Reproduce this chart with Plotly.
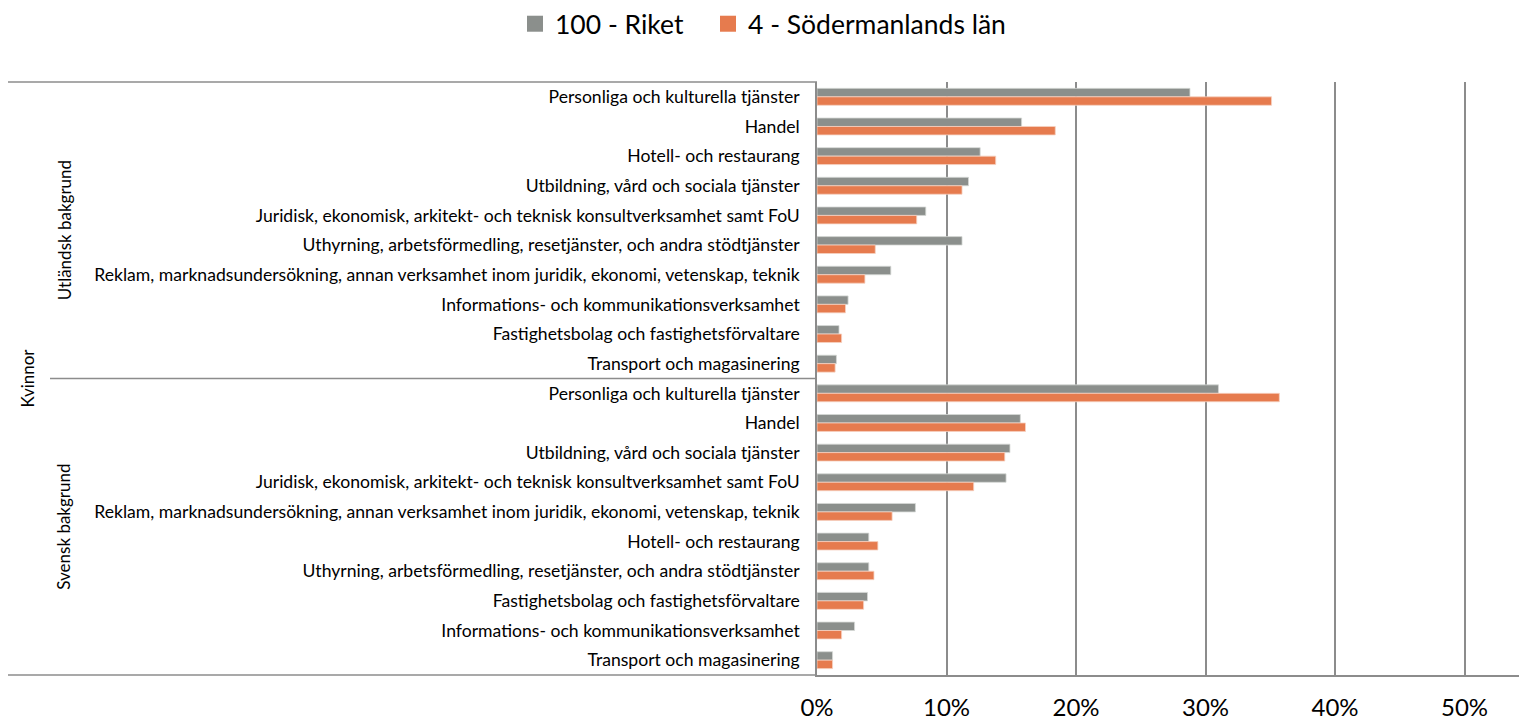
import plotly.graph_objects as go

# ---- data ----
series_names = ["100 - Riket", "4 - Södermanlands län"]
top_level = "Kvinnor"
group_names = ["Utländsk bakgrund", "Svensk bakgrund"]

utl_categories = [
    "Personliga och kulturella tjänster",
    "Handel",
    "Hotell- och restaurang",
    "Utbildning, vård och sociala tjänster",
    "Juridisk, ekonomisk, arkitekt- och teknisk konsultverksamhet samt FoU",
    "Uthyrning, arbetsförmedling, resetjänster, och andra stödtjänster",
    "Reklam, marknadsundersökning, annan verksamhet inom juridik, ekonomi, vetenskap, teknik",
    "Informations- och kommunikationsverksamhet",
    "Fastighetsbolag och fastighetsförvaltare",
    "Transport och magasinering",
]
utl_riket = [0.288, 0.158, 0.126, 0.117, 0.084, 0.112, 0.057, 0.024, 0.017, 0.015]
utl_sodermanland = [0.351, 0.184, 0.138, 0.112, 0.077, 0.045, 0.037, 0.022, 0.019, 0.014]

sve_categories = [
    "Personliga och kulturella tjänster",
    "Handel",
    "Utbildning, vård och sociala tjänster",
    "Juridisk, ekonomisk, arkitekt- och teknisk konsultverksamhet samt FoU",
    "Reklam, marknadsundersökning, annan verksamhet inom juridik, ekonomi, vetenskap, teknik",
    "Hotell- och restaurang",
    "Uthyrning, arbetsförmedling, resetjänster, och andra stödtjänster",
    "Fastighetsbolag och fastighetsförvaltare",
    "Informations- och kommunikationsverksamhet",
    "Transport och magasinering",
]
sve_riket = [0.310, 0.157, 0.149, 0.146, 0.076, 0.040, 0.040, 0.039, 0.029, 0.012]
sve_sodermanland = [0.357, 0.161, 0.145, 0.121, 0.058, 0.047, 0.044, 0.036, 0.019, 0.012]

x_tickvals = [0, 0.1, 0.2, 0.3, 0.4, 0.5]

# ---- build ----
labels = utl_categories + sve_categories
positions = list(range(len(labels)))
riket = utl_riket + sve_riket
sodermanland = utl_sodermanland + sve_sodermanland

GREY = "#8B8F8C"
ORANGE = "#E67B4E"
LINE = "#8C8C8C"
FONT = "Lato"

OFF = 8  # page body margin
W, H = 1527 - OFF, 721 - OFF
L, R, T, B = 817 - OFF, 0, 82 - OFF, 46
pw, ph = W - L - R, H - T - B


def px_x(px):
    """page pixel x -> paper coordinate"""
    return (px - OFF - L) / pw


def px_y(py):
    """page pixel y -> paper coordinate"""
    return 1 - (py - OFF - T) / ph


fig = go.Figure()
fig.add_trace(go.Bar(y=positions, x=riket, orientation="h", name=series_names[0], showlegend=False,
                     marker=dict(color=GREY, line=dict(color="#D6D8D6", width=0.8))))
fig.add_trace(go.Bar(y=positions, x=sodermanland, orientation="h", name=series_names[1], showlegend=False,
                     marker=dict(color=ORANGE, line=dict(color="#F6D2C2", width=0.8))))
# legend entries (square swatches), one legend box each
for name, col, lg in zip(series_names, [GREY, ORANGE], ["legend", "legend2"]):
    fig.add_trace(go.Scatter(x=[None], y=[None], mode="markers", name=name, legend=lg,
                             marker=dict(symbol="square", size=17, color=col)))

shapes = []
shapes.append(dict(type="line", xref="paper", yref="paper", x0=px_x(8), x1=0, y0=1, y1=1,
                   line=dict(color=LINE, width=1.5)))
n1 = len(utl_categories)
mid_y = 1 - n1 / len(labels)
shapes.append(dict(type="line", xref="paper", yref="paper", x0=px_x(50), x1=0, y0=mid_y, y1=mid_y,
                   line=dict(color=LINE, width=1.5)))
shapes.append(dict(type="line", xref="paper", yref="paper", x0=px_x(8), x1=0, y0=0, y1=0,
                   line=dict(color=LINE, width=1.5)))

annotations = [
    dict(text=group_names[0], xref="paper", yref="paper", x=px_x(64), y=(1 + mid_y) / 2,
         textangle=-90, showarrow=False, font=dict(family=FONT, size=17, color="#000"),
         xanchor="center", yanchor="middle"),
    dict(text=group_names[1], xref="paper", yref="paper", x=px_x(64), y=mid_y / 2,
         textangle=-90, showarrow=False, font=dict(family=FONT, size=17, color="#000"),
         xanchor="center", yanchor="middle"),
    dict(text=top_level, xref="paper", yref="paper", x=px_x(27), y=0.5,
         textangle=-90, showarrow=False, font=dict(family=FONT, size=17, color="#000"),
         xanchor="center", yanchor="middle"),
]

legend_common = dict(orientation="h", yanchor="middle", xanchor="left",
                     font=dict(family=FONT, size=26.5, color="#000"),
                     bgcolor="rgba(0,0,0,0)", borderwidth=0)

fig.update_layout(
    width=W, height=H,
    margin=dict(l=L, r=R, t=T, b=B, pad=0, autoexpand=False),
    plot_bgcolor="white", paper_bgcolor="white",
    barmode="group", bargap=0.43, bargroupgap=0,
    font=dict(family=FONT, color="#000"),
    legend=dict(x=px_x(515), y=px_y(24), **legend_common),
    legend2=dict(x=px_x(708), y=px_y(24), **legend_common),
    shapes=shapes,
    annotations=annotations,
    xaxis=dict(range=[0, pw / 1295.0], tickvals=x_tickvals, tickformat=".0%",
               showgrid=True, gridcolor=LINE, gridwidth=1.5,
               showline=True, linecolor=LINE, linewidth=1.5, automargin=False,
               zeroline=False, ticks="", ticklabelstandoff=10,
               tickfont=dict(family=FONT, size=24, color="#000")),
    yaxis=dict(tickvals=positions, ticktext=labels, autorange=False, automargin=False,
               range=[len(labels) - 0.5, -0.5],
               showgrid=False, showline=True, linecolor=LINE, linewidth=1.5,
               zeroline=False, ticks="", ticklabelstandoff=12,
               tickfont=dict(family=FONT, size=17.6, color="#000")),
)

fig.write_html("out.html")
